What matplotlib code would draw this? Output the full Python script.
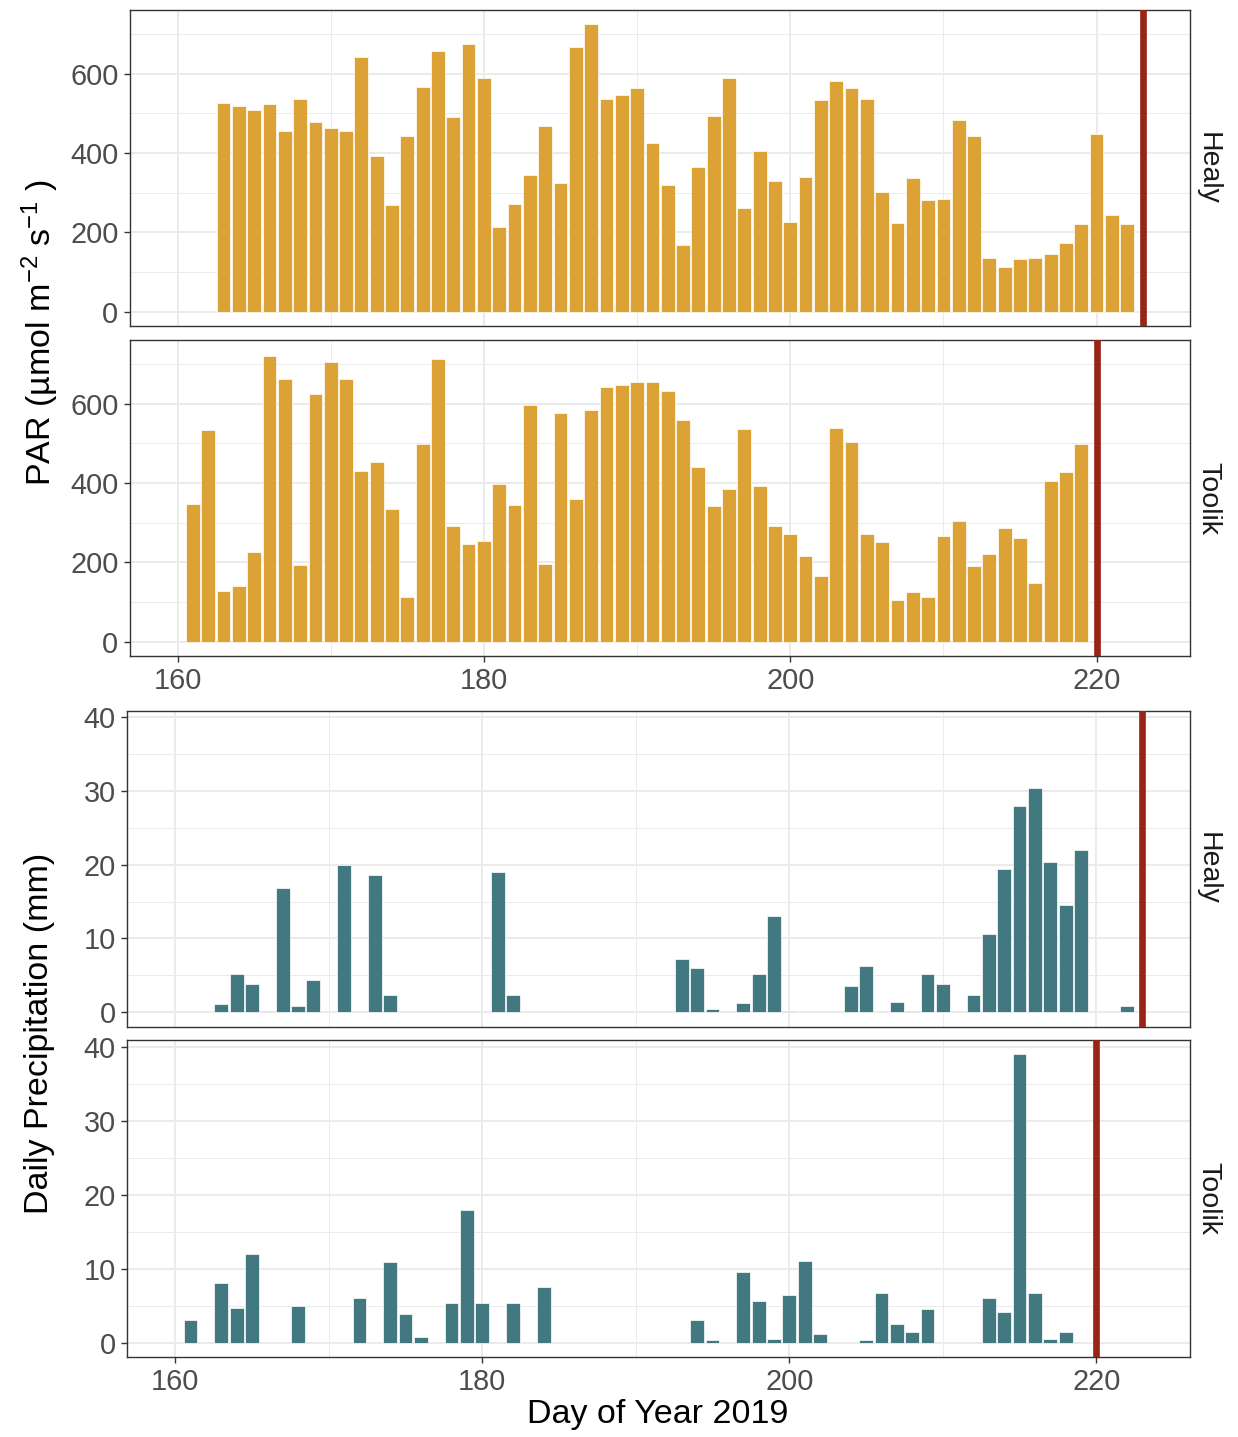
import numpy as np
import matplotlib
matplotlib.use("Agg")
import matplotlib.pyplot as plt
from matplotlib.ticker import MultipleLocator

plt.rcParams['font.family'] = ['Liberation Sans', 'DejaVu Sans']
plt.rcParams['mathtext.fontset'] = 'custom'
plt.rcParams['mathtext.rm'] = 'Liberation Sans'
plt.rcParams['mathtext.it'] = 'Liberation Sans:italic'

# PAR, daily means
healy_par_days = np.arange(163, 223)
healy_par = [525, 518, 509, 524, 455, 537, 477, 462, 455, 643,
             392, 269, 443, 566, 656, 491, 675, 589, 214, 271,
             345, 469, 324, 667, 724, 537, 545, 564, 425, 319,
             167, 365, 493, 589, 261, 405, 328, 225, 339, 534,
             582, 564, 536, 302, 224, 338, 281, 285, 482, 442,
             136, 112, 132, 136, 144, 172, 222, 448, 243, 220]
toolik_par_days = np.arange(161, 220)
toolik_par = [348, 533, 128, 139, 227, 720, 663, 193, 625, 704,
              663, 431, 453, 334, 113, 499, 713, 291, 245, 254,
              398, 345, 597, 195, 576, 360, 583, 643, 647, 655,
              654, 632, 558, 439, 343, 385, 535, 393, 292, 271,
              216, 166, 539, 503, 271, 252, 105, 124, 112, 266,
              305, 191, 221, 286, 262, 147, 405, 428, 498]

# daily precipitation (mm)
healy_rain_days = [163, 164, 165, 166, 167, 168, 169, 171, 173, 174, 181, 182,
                   193, 194, 195, 197, 198, 199, 200, 204, 205, 207, 208, 209,
                   210, 212, 213, 214, 215, 216, 217, 218, 219, 222]
healy_rain = [1.1, 5.2, 3.8, 0.2, 16.8, 0.8, 4.4, 20.0, 18.6, 2.3, 19.0, 2.3,
              7.2, 6.0, 0.45, 1.2, 5.2, 13.0, 0.2, 3.6, 6.2, 1.4, 0.2, 5.2,
              3.8, 2.3, 10.6, 19.4, 28.0, 30.4, 20.4, 14.6, 22.0, 0.8]
toolik_rain_days = [161, 163, 164, 165, 168, 172, 174, 175, 176, 178, 179, 180,
                    182, 184, 194, 195, 197, 198, 199, 200, 201, 202, 205, 206,
                    207, 208, 209, 213, 214, 215, 216, 217, 218]
toolik_rain = [3.0, 8.1, 4.7, 12.0, 5.0, 6.1, 10.9, 3.9, 0.8, 5.3, 18.0, 5.3,
               5.3, 7.5, 3.0, 0.3, 9.5, 5.6, 0.5, 6.5, 11.1, 1.1, 0.3, 6.7,
               2.5, 1.4, 4.5, 6.1, 4.2, 39.0, 6.7, 0.5, 1.4]

sites = ['Healy', 'Toolik']
end_day = {'Healy': 223, 'Toolik': 220}

W, H = 1238, 1437
fig = plt.figure(figsize=(W / 100, H / 100), dpi=100)


def rect(l, t, r, b):
    return [l / W, 1 - b / H, (r - l) / W, (b - t) / H]


def style(ax, ymax, xticks):
    ax.set_xlim(156.86, 226.1)
    ax.set_ylim(-0.05 * ymax, 1.05 * ymax)
    ax.xaxis.set_major_locator(MultipleLocator(20))
    ax.xaxis.set_minor_locator(MultipleLocator(10))
    ax.grid(which='major', color='#EBEBEB', lw=1.4, zorder=0)
    ax.grid(which='minor', color='#EBEBEB', lw=0.7, zorder=0)
    ax.set_axisbelow(True)
    for s in ax.spines.values():
        s.set_color('#333333')
        s.set_linewidth(1.0)
    ax.tick_params(which='major', length=4.5, width=1.0, color='#333333',
                   labelsize=20.8, labelcolor='#4D4D4D', pad=3.5)
    ax.tick_params(which='minor', length=0)
    if not xticks:
        ax.tick_params(axis='x', which='both', length=0, labelbottom=False)


par_data = {'Healy': (healy_par_days, healy_par), 'Toolik': (toolik_par_days, toolik_par)}
rain_data = {'Healy': (healy_rain_days, healy_rain), 'Toolik': (toolik_rain_days, toolik_rain)}
par_max = max(max(healy_par), max(toolik_par))
rain_max = max(max(healy_rain), max(toolik_rain))

boxes_top = [(129.5, 10, 1190, 326), (129.5, 340, 1190, 656)]
boxes_bot = [(127, 710.5, 1190, 1026.5), (127, 1040, 1190, 1357)]

for i, site in enumerate(sites):
    ax = fig.add_axes(rect(*boxes_top[i]))
    d, v = par_data[site]
    ax.bar(d, v, width=0.9, color='#DDA236', edgecolor='white', linewidth=0.5, zorder=2)
    ax.axvline(end_day[site], color='#982416', lw=4.8, zorder=3)
    ax.yaxis.set_major_locator(MultipleLocator(200))
    ax.yaxis.set_minor_locator(MultipleLocator(100))
    style(ax, par_max, i == 1)
    ax.text(1.017, 0.5, site, transform=ax.transAxes, rotation=-90,
            ha='center', va='center', fontsize=20.5, color='#1A1A1A')

    ax = fig.add_axes(rect(*boxes_bot[i]))
    d, v = rain_data[site]
    ax.bar(d, v, width=0.9, color='#427880', edgecolor='white', linewidth=0.5, zorder=2)
    ax.axvline(end_day[site], color='#982416', lw=4.8, zorder=3)
    ax.yaxis.set_major_locator(MultipleLocator(10))
    ax.yaxis.set_minor_locator(MultipleLocator(5))
    style(ax, rain_max, i == 1)
    ax.text(1.017, 0.5, site, transform=ax.transAxes, rotation=-90,
            ha='center', va='center', fontsize=20.5, color='#1A1A1A')

fig.text(40 / W, 1 - 333 / H, 'PAR (µmol m$^{-2}$ s$^{-1}$ )', rotation=90,
         ha='center', va='center', fontsize=24.5)
fig.text(40 / W, 1 - 1033 / H, 'Daily Precipitation (mm)', rotation=90,
         ha='center', va='center', fontsize=24.5)
fig.text(658 / W, 1 - 1415 / H, 'Day of Year 2019', ha='center', va='center', fontsize=24.5)

plt.savefig('out.png', dpi=100)
